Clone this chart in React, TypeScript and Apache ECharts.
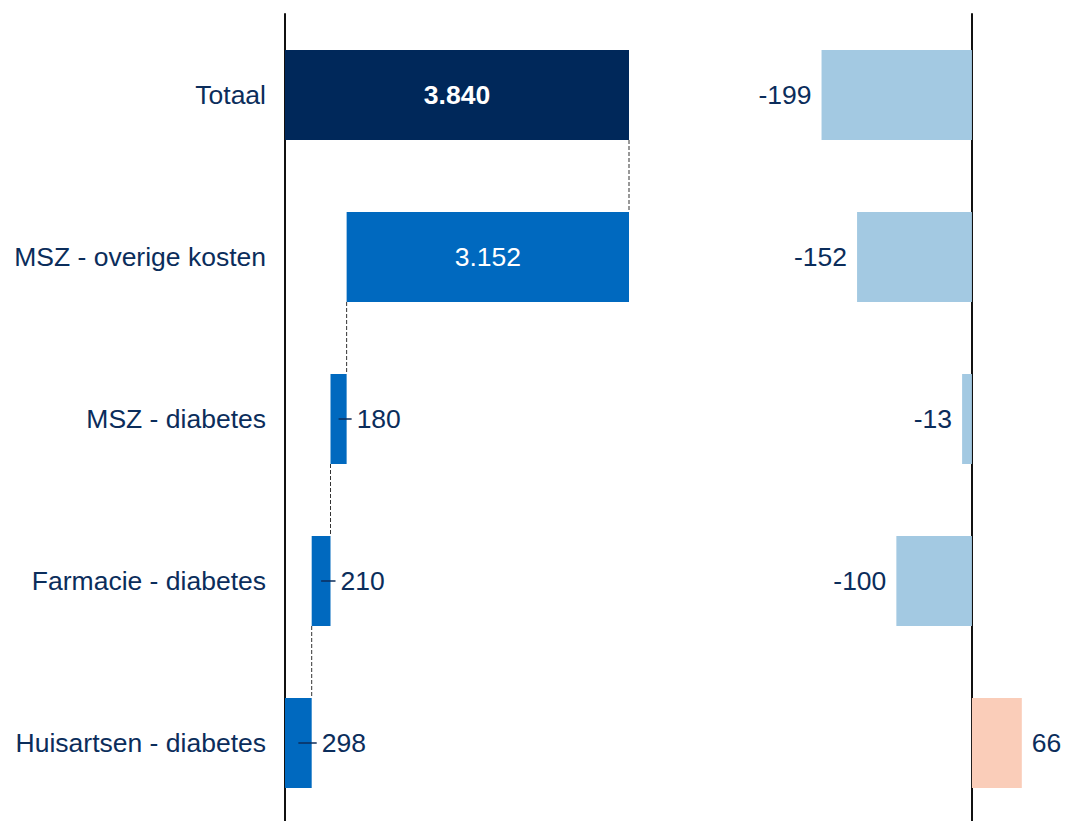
import React, { useEffect, useRef } from "react";
import * as echarts from "echarts";

const categories = ["Totaal", "MSZ - overige kosten", "MSZ - diabetes", "Farmacie - diabetes", "Huisartsen - diabetes"];
const leftValues = [3840, 3152, 180, 210, 298];
const rightValues = [-199, -152, -13, -100, 66];

const NAVY_TEXT = "#0B2D5B";
const FONT = "'Liberation Sans', Arial, sans-serif";
const FS = 26.5;

export default function App() {
  const ref = useRef<HTMLDivElement>(null);
  useEffect(() => {
    if (!ref.current) return;
    const chart = echarts.init(ref.current, undefined, { renderer: "svg" });
    const total = leftValues[0];
    // base (invisible) of each waterfall bar
    const bases: number[] = [];
    let running = total;
    leftValues.forEach((v, i) => {
      if (i === 0) {
        bases.push(0);
      } else {
        running -= v;
        bases.push(running);
      }
    });
    // connectors: from start of bar i down to next bar
    const connectors = leftValues.slice(0, -1).map((v, i) => [i === 0 ? total : bases[i], i]);
    // small dash for outside labels
    const dashes = leftValues
      .map((v, i) => [bases[i] + v / 2, bases[i] + v, i])
      .filter((d, i) => i >= 2);

    const BAR_H = 90;
    chart.setOption({
      animation: false,
      grid: [
        { left: 285, top: 14, width: 344, height: 810, outerBoundsMode: "none" },
        { left: 783, top: 14, width: 264.5, height: 810, outerBoundsMode: "none" },
      ],
      xAxis: [
        { type: "value", gridIndex: 0, min: 0, max: 3840, show: false },
        { type: "value", gridIndex: 1, min: -250, max: 100, show: false },
      ],
      yAxis: [
        {
          type: "category",
          gridIndex: 0,
          data: categories,
          inverse: true,
          axisLine: { show: true, lineStyle: { color: "#111", width: 2 } },
          axisTick: { show: false },
          axisLabel: { color: NAVY_TEXT, fontSize: FS, fontFamily: FONT, margin: 19 },
        },
        {
          type: "category",
          gridIndex: 1,
          data: categories,
          inverse: true,
          axisLine: { show: true, onZero: true, lineStyle: { color: "#111", width: 2 } },
          axisTick: { show: false },
          axisLabel: { show: false },
        },
      ],
      series: [
        {
          type: "bar",
          xAxisIndex: 0,
          yAxisIndex: 0,
          stack: "wf",
          barWidth: BAR_H,
          itemStyle: { color: "transparent" },
          data: bases,
          silent: true,
        },
        {
          type: "bar",
          xAxisIndex: 0,
          yAxisIndex: 0,
          stack: "wf",
          barWidth: BAR_H,
          data: leftValues.map((v, i) => {
            if (i === 0)
              return {
                value: v,
                itemStyle: { color: "#00285A" },
                label: { show: true, position: "inside", color: "#fff", fontWeight: "bold", fontSize: FS, fontFamily: FONT },
              };
            if (i === 1)
              return {
                value: v,
                itemStyle: { color: "#0069BF" },
                label: { show: true, position: "inside", color: "#fff", fontSize: FS, fontFamily: FONT },
              };
            return {
              value: v,
              itemStyle: { color: "#0069BF" },
              label: { show: true, position: "right", distance: 10, color: NAVY_TEXT, fontSize: FS, fontFamily: FONT },
            };
          }),
          label: {
            formatter: (p: any) => {
              const n = p.value as number;
              return n >= 1000 ? Math.floor(n / 1000) + "." + String(n % 1000).padStart(3, "0") : String(n);
            },
          },
        },
        {
          type: "custom",
          xAxisIndex: 0,
          yAxisIndex: 0,
          silent: true,
          data: connectors,
          renderItem: (params: any, api: any) => {
            const x = api.value(0);
            const idx = api.value(1);
            const p1 = api.coord([x, idx]);
            const p2 = api.coord([x, idx + 1]);
            return {
              type: "line",
              shape: { x1: p1[0], y1: p1[1] + BAR_H / 2, x2: p2[0], y2: p2[1] - BAR_H / 2 },
              style: { stroke: "#333", lineWidth: 1, lineDash: [4, 2] },
            };
          },
          z: 5,
        },
        {
          type: "custom",
          xAxisIndex: 0,
          yAxisIndex: 0,
          silent: true,
          data: dashes,
          renderItem: (params: any, api: any) => {
            const idx = api.value(2);
            const a = api.coord([api.value(0), idx]);
            const b = api.coord([api.value(1), idx]);
            return {
              type: "line",
              shape: { x1: a[0], y1: a[1], x2: b[0] + 5, y2: b[1] },
              style: { stroke: NAVY_TEXT, lineWidth: 1.5 },
            };
          },
          z: 6,
        },
        {
          type: "bar",
          xAxisIndex: 1,
          yAxisIndex: 1,
          barWidth: BAR_H,
          data: rightValues.map((v) => ({
            value: v,
            itemStyle: { color: v < 0 ? "#A3C9E2" : "#FACDB9" },
            label: {
              show: true,
              position: v < 0 ? "left" : "right",
              distance: 10,
              color: NAVY_TEXT,
              fontSize: FS,
              fontFamily: FONT,
            },
          })),
        },
      ],
    });
    return () => chart.dispose();
  }, []);
  return (
    <div
      ref={ref}
      style={{ position: "fixed", left: 0, top: 0, width: 1066, height: 821, background: "#fff" }}
    />
  );
}
